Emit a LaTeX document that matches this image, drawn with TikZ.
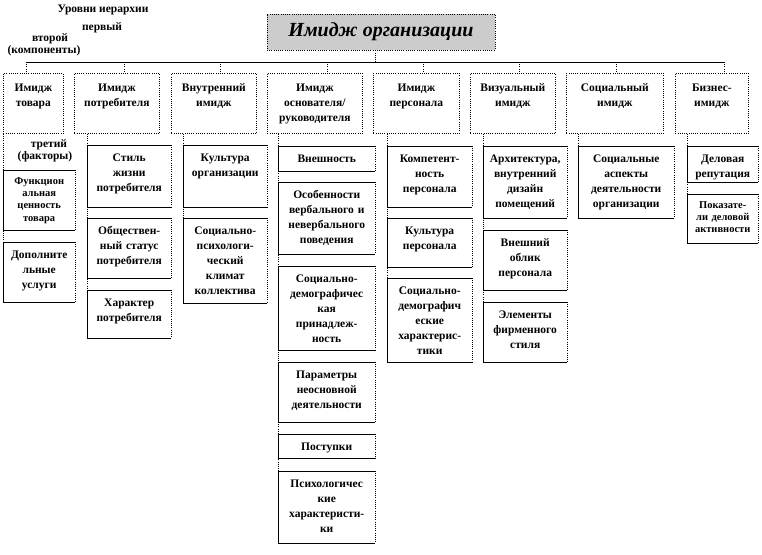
\documentclass[tikz,border=0pt]{standalone}
\usepackage{fontspec}
\setmainfont{Liberation Serif}
\usetikzlibrary{positioning}

\tikzset{
  link/.style={dash pattern=on 1pt off 1.2pt, line width=0.7pt},
  title/.style={draw, link, fill=gray!40, minimum width=228pt, minimum height=36pt,
    font=\bfseries\itshape\fontsize{20}{24}\selectfont},
  level/.style={draw, link, anchor=north west, inner xsep=2pt, inner ysep=0pt,
    align=center, text height=18pt, text depth=42pt,
    font=\bfseries\fontsize{11.5}{15}\selectfont},
  factor/.style={anchor=north west, inner xsep=2pt, inner ysep=0pt,
    align=center, text height=16pt,
    font=\bfseries\fontsize{11.5}{15}\selectfont},
  tight/.style={text height=14pt, font=\bfseries\fontsize{10.5}{12.3}\selectfont},
  tier/.style={font=\bfseries\fontsize{11.5}{13}\selectfont},
}

\begin{document}
\begin{tikzpicture}[x=1pt, y=-1pt]
\useasboundingbox (0,0) rectangle (762,554);

% levels of hierarchy
\node[tier] (tiers) at (103,10) {Уровни иерархии};
\node[tier] (first) at (102,28) {первый};
\node[tier] (second) at (50,39) {второй};
\node[tier] (parts) at (44,51) {(компоненты)};
\node[tier] (third) at (49,145) {третий};
\node[tier] (factors) at (45,157) {(факторы)};

% first level
\node[title] (title) at (381,32) {Имидж организации};

% second level
\node[level, text width=56pt] (l1) at (3,73) {Имидж\\товара};
\node[level, text width=81pt] (l2) at (74,73) {Имидж\\потребителя};
\node[level, text width=81pt] (l3) at (171,73) {Внутренний\\имидж};
\node[level, text width=91pt] (l4) at (267,73) {Имидж\\основателя/\\руководителя};
\node[level, text width=82pt] (l5) at (373,73) {Имидж\\персонала};
\node[level, text width=81pt] (l6) at (470,73) {Визуальный\\имидж};
\node[level, text width=93pt] (l7) at (566,73) {Социальный\\имидж};
\node[level, text width=69pt] (l8) at (675,73) {Бизнес-\\имидж};

\foreach \n/\dx in {l1/-7,l2/7,l3/6,l4/12,l5/7,l6/6,l7/1,l8/12} {
  \path ([xshift=\dx pt]\n.north) ++(0,-11) coordinate (top-\n);
  \draw[link] (top-\n) -- ([xshift=\dx pt]\n.north);
}
\draw[line width=0.8pt] (top-l1) -- (top-l8);
\draw[link] ([xshift=-6pt]title.south) -- ++(0,12);

% third level
\node[factor, tight, text width=68pt, text depth=46pt] (c1a) at (3,170) {Функцион\\альная\\ценность\\товара};
\node[factor, text width=68pt, text depth=44pt] (c1b) at (3,242) {Дополните\\льные\\услуги};

\node[factor, text width=80pt, text depth=46pt] (c2a) at (87,145) {Стиль\\жизни\\потребителя};
\node[factor, text width=80pt, text depth=44pt] (c2b) at (87,218) {Обществен-\\ный статус\\потребителя};
\node[factor, text width=80pt, text depth=32pt] (c2c) at (87,290) {Характер\\потребителя};

\node[factor, text width=80pt, text depth=46pt] (c3a) at (183,145) {Культура\\организации};
\node[factor, text width=80pt, text depth=69pt] (c3b) at (183,218) {Социально-\\психологи-\\ческий\\климат\\коллектива};

\node[factor, text width=93pt, text depth=9pt] (c4a) at (278,146) {Внешность};
\node[factor, text width=93pt, text depth=56pt] (c4b) at (278,182) {Особенности\\вербального и\\невербального\\поведения};
\node[factor, text width=93pt, text depth=68pt] (c4c) at (278,266) {Социально-\\демографичес\\кая\\принадлеж-\\ность};
\node[factor, text width=93pt, text depth=44pt] (c4d) at (278,362) {Параметры\\неосновной\\деятельности};
\node[factor, text width=93pt, text depth=8pt] (c4e) at (278,434) {Поступки};
\node[factor, text width=93pt, text depth=56pt] (c4f) at (278,471) {Психологичес\\кие\\характеристи-\\ки};

\node[factor, text width=81pt, text depth=45pt] (c5a) at (387,146) {Компетент-\\ность\\персонала};
\node[factor, text width=81pt, text depth=33pt] (c5b) at (387,218) {Культура\\персонала};
\node[factor, text width=81pt, text depth=68pt] (c5c) at (387,278) {Социально-\\демографич\\еские\\характерис-\\тики};

\node[factor, text width=80pt, text depth=56pt] (c6a) at (483,146) {Архитектура,\\внутренний\\дизайн\\помещений};
\node[factor, text width=80pt, text depth=44pt] (c6b) at (483,230) {Внешний\\облик\\персонала};
\node[factor, text width=80pt, text depth=44pt] (c6c) at (483,302) {Элементы\\фирменного\\стиля};

\node[factor, text width=92pt, text depth=56pt] (c7a) at (578,146) {Социальные\\аспекты\\деятельности\\организации};

\node[factor, text width=67pt, text depth=20pt] (c8a) at (687,146) {Деловая\\репутация};
\node[factor, tight, text width=67pt, text depth=35pt] (c8b) at (687,194) {Показате-\\ли деловой\\активности};

% columns
\draw[link] (l1.south -| c1a.west) -- (c1b.north west);
\draw[link] (l2.south -| c2a.west) -- (c2c.north west);
\draw[link] (l3.south -| c3a.west) -- (c3b.north west);
\draw[link] (l4.south -| c4a.west) -- (c4f.north west);
\draw[link] (l5.south -| c5a.west) -- (c5c.north west);
\draw[link] (l6.south -| c6a.west) -- (c6c.north west);
\draw[link] (l7.south -| c7a.west) -- (c7a.north west);
\draw[link] (l8.south -| c8a.west) -- (c8b.north west);

\foreach \n in {c1a,c1b,c2a,c2b,c2c,c3a,c3b,c4a,c4b,c4c,c4d,c4e,c4f,
  c5a,c5b,c5c,c6a,c6b,c6c,c7a,c8a,c8b} {
  \draw[line width=0.6pt] (\n.north east) -- (\n.north west) -- (\n.south west) -- (\n.south east);
  \draw[link] (\n.north east) -- (\n.south east);
}
\end{tikzpicture}
\end{document}
